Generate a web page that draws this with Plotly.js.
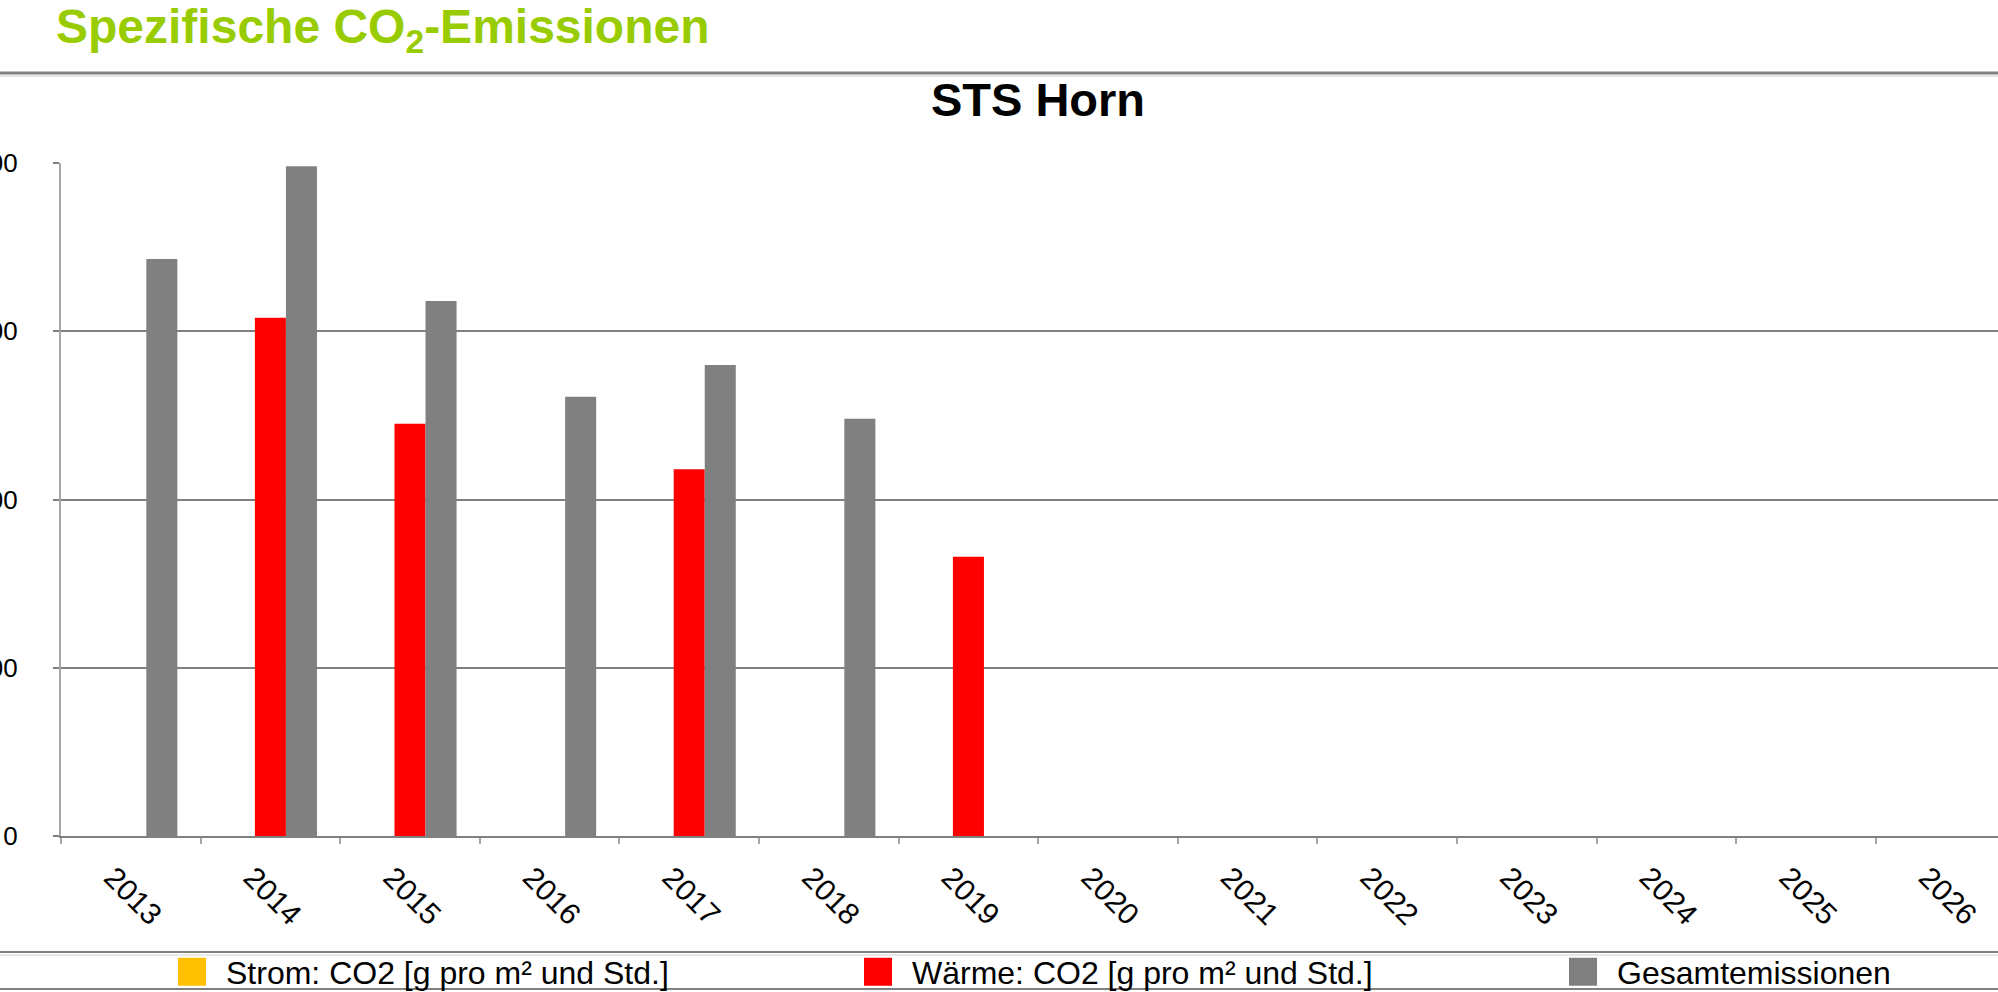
<!DOCTYPE html>
<html><head><meta charset="utf-8">
<script src="https://cdn.plot.ly/plotly-3.0.1.min.js"></script>
<style>html,body{margin:0;padding:0;background:#fff;overflow:hidden}#chart{width:1998px;height:992px}</style>
</head><body><div id="chart"></div>
<script>
// ---- data ----
const years = ['2013','2014','2015','2016','2017','2018','2019','2020','2021','2022','2023','2024','2025','2026'];
const stromCO2  = [null,null,null,null,null,null,null,null,null,null,null,null,null,null];
const waermeCO2 = [null,308,245,null,218,null,166,null,null,null,null,null,null,null];
const gesamtCO2 = [343,398,318,261,280,248,null,null,null,null,null,null,null,null];
const seriesNames = ['Strom: CO2 [g pro m² und Std.]','Wärme: CO2 [g pro m² und Std.]','Gesamtemissionen'];
const yTickVals = [0,100,200,300,400];
const pageTitle = 'Spezifische CO<sub>2</sub>-Emissionen';
const chartTitle = 'STS Horn';

// ---- layout geometry (pixels) ----
const W = 1998, H = 992, ML = 61, MT = 163, MB = 156;
const plotH = H - MT - MB, plotW = W - ML;
const py = p => 1 - (p - MT) / plotH;   // pixel y -> paper y
const px = p => (p - ML) / plotW;       // pixel x -> paper x
const FONT = 'Liberation Sans, Arial, sans-serif';

const colors = ['#FFC000','#FF0000','#808080'];
const legendWidths = [613, 632, 300];
const traces = [stromCO2, waermeCO2, gesamtCO2].map((vals, i) => ({
  type: 'bar', x: years, y: vals, name: seriesNames[i], legendwidth: legendWidths[i],
  marker: {color: colors[i], line: {width: 0}}, hoverinfo: 'x+y+name'
}));

const hline = (y, color, width) => ({type:'line', xref:'paper', yref:'paper',
  x0: px(0), x1: 1, y0: py(y), y1: py(y), line:{color, width}, layer:'above'});

const layout = {
  width: W, height: H, paper_bgcolor:'#fff', plot_bgcolor:'#fff',
  margin: {l: ML, r: 0, t: MT, b: MB, pad: 0},
  font: {family: FONT, color: '#000'},
  barmode: 'group', bargap: 0.333, bargroupgap: 0,
  title: {text: '<b>' + chartTitle + '</b>', font: {size: 47, family: FONT, color:'#000'},
    xref: 'container', yref: 'container', x: 1038 / W, xanchor: 'center', y: 1 - 100 / H, yanchor: 'middle'},
  xaxis: {type:'category', range:[-0.5, 13.375], tickson:'boundaries', ticks:'outside', ticklen:6, tickwidth:2,
    tickcolor:'#a6a6a6', showline:true, linecolor:'#808080', linewidth:2, showgrid:false, zeroline:false,
    tickangle:45, tickfont:{size:30, family: FONT}, ticklabelshift:-18, ticklabelstandoff:10, automargin:false, fixedrange:true},
  yaxis: {range:[0,400], tickvals: yTickVals, ticks:'outside', ticklen:6, tickwidth:2, tickcolor:'#808080',
    showline:true, linecolor:'#a6a6a6', linewidth:2, gridcolor:'#808080', gridwidth:2, zeroline:false,
    tickfont:{size:26, family: FONT}, ticklabelstandoff:30, automargin:false, fixedrange:true},
  showlegend: true,
  legend: {orientation:'h', xref:'container', yref:'container', x: 158 / W, xanchor:'left',
    y: 1 - 972 / H, yanchor:'middle', font:{size:32, family: FONT}, entrywidthmode:'pixels',
    itemwidth: 58, bgcolor:'rgba(0,0,0,0)', borderwidth:0, traceorder:'normal'},
  annotations: [{text: '<b>' + pageTitle + '</b>', xref:'paper', yref:'paper', x: px(54), xanchor:'left',
    y: py(30), yanchor:'middle', showarrow:false, font:{size:48, family: FONT, color:'#99CC00'}}],
  shapes: [
    hline(73, '#808080', 3), hline(76, '#c8c8c8', 1),
    hline(952, '#808080', 2), hline(955, '#d0d0d0', 1),
    hline(989, '#808080', 2)
  ]
};

Plotly.newPlot('chart', traces, layout, {displayModeBar:false, staticPlot:true}).then(() => {
  document.querySelectorAll('.legendpoints path').forEach(p => {
    p.setAttribute('d', 'M14,14H-14V-14H14Z');
  });
});
</script></body></html>
